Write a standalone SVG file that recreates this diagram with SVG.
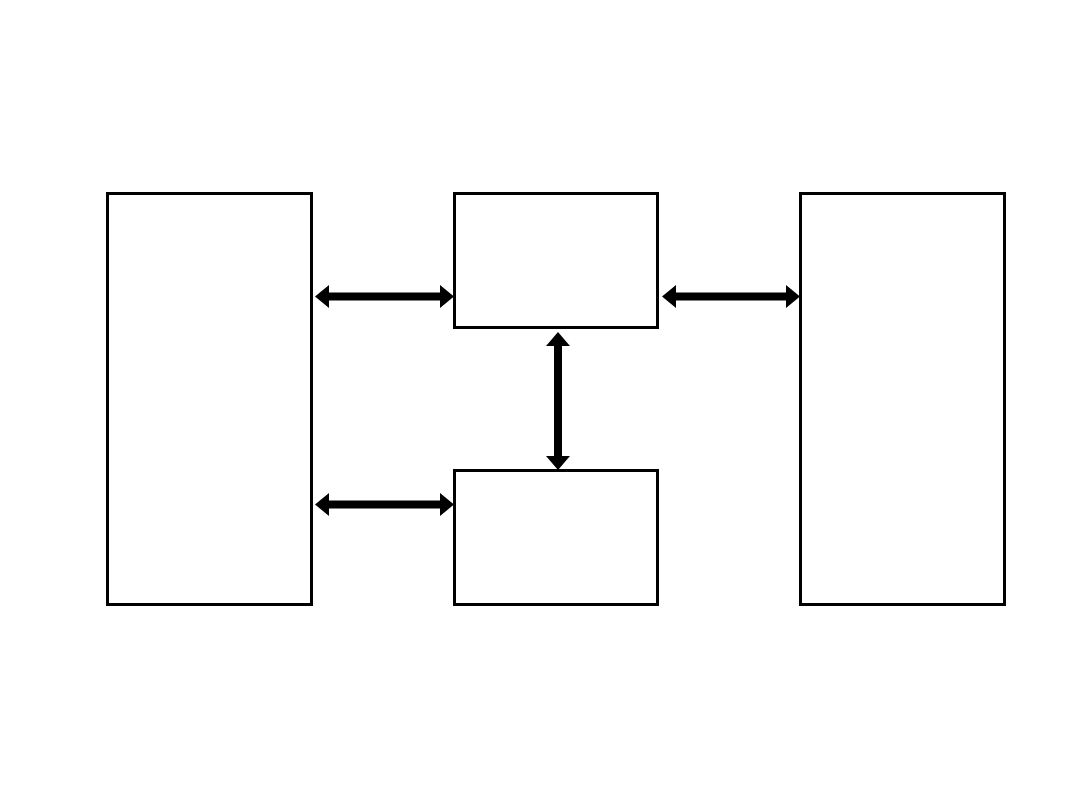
<svg xmlns="http://www.w3.org/2000/svg" width="1080" height="810" viewBox="0 0 1080 810">
<style>
.box{fill:#fff;stroke:#000;stroke-width:3}
.arr{fill:#000;stroke:none}
</style>
<rect width="1080" height="810" fill="#fff"/>
<g id="node-left"><rect class="box" x="107.5" y="193.5" width="204" height="411"/></g>
<g id="node-center-top"><rect class="box" x="454.5" y="193.5" width="203" height="134"/></g>
<g id="node-center-bottom"><rect class="box" x="454.5" y="470.5" width="203" height="134"/></g>
<g id="node-right"><rect class="box" x="800.5" y="193.5" width="204" height="411"/></g>
<g id="connectors">
<polygon class="arr" points="315,296.5 329,285 329,292.5 440,292.5 440,285 454,296.5 440,308 440,300.5 329,300.5 329,308"/>
<polygon class="arr" points="662,296.5 676,285 676,292.5 786,292.5 786,285 800,296.5 786,308 786,300.5 676,300.5 676,308"/>
<polygon class="arr" points="315,504.5 329,493 329,500.5 440,500.5 440,493 454,504.5 440,516 440,508.5 329,508.5 329,516"/>
<polygon class="arr" points="558,332 570,346 562,346 562,456 570,456 558,470 546,456 554,456 554,346 546,346"/>
</g>
</svg>
